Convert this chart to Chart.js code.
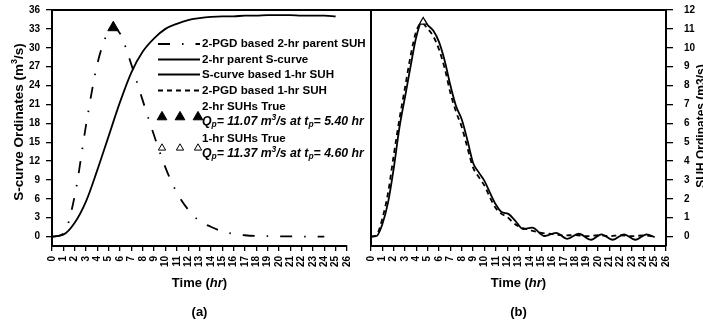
<!DOCTYPE html>
<html>
<head>
<meta charset="utf-8">
<script src="https://cdn.jsdelivr.net/npm/chart.js@4.4.1/dist/chart.umd.min.js"></script>
<style>
html, body { margin:0; padding:0; background:#fff; }
#quadro { position:relative; width:703px; height:322px; overflow:hidden; }
canvas { position:absolute; left:0; top:0; }
</style>
</head>
<body>
<div id="quadro">
  <canvas id="graficoA" width="703" height="322"></canvas>
  <canvas id="graficoB" width="703" height="322"></canvas>
</div>
<script>
// (a) 2-hr parent S-curve (left axis, m3/s)
var horasS = [0,1,2,3,4,5,6,7,8,9,10,11,12,13,14,15,16,17,18,19,20,21,22,23,24,25];
var sCurve2h = [0,0.3,2.2,5.6,10.6,16.0,21.4,26.1,29.4,31.5,33.0,33.8,34.4,34.7,34.9,35.0,35.0,35.1,35.1,35.2,35.2,35.2,35.1,35.1,35.1,35.0];

// (a) 2-PGD based 2-hr parent SUH (SUH axis)
var horasSuh2h = [0,1,2,3,4,5,5.4,6,7,8,9,10,11,12,13,14,15,16,17,18,19,20,21,22,23,24];
var suh2h = [0,0.15,2.15,5.9,9.15,10.9,11.07,10.75,9.1,7.2,5.35,3.65,2.33,1.43,0.82,0.52,0.27,0.14,0.07,0.03,0.02,0.01,0.01,0,0,0];

// true peaks
var pico2hT = [5.4], pico2hQ = [11.07];
var pico1hT = [4.6], pico1hQ = [11.37];

// (b) S-curve based 1-hr SUH
var horasScurve1h = [0,0.5,1,1.5,2,2.5,3,3.5,4,4.6,5,5.5,6,6.5,7,7.5,8,8.5,9,9.5,10,10.5,11,11.5,12.1,12.7,13.4,14.2,15.3,16.3,17.3,18.3,19.4,20.3,21.3,22.3,23.3,24.3,25];
var suh1hScurve = [0,0.03,0.65,1.8,3.6,5.75,7.4,9.05,10.6,11.5,11.2,10.9,10.3,9.3,8.0,6.9,6.2,5.1,3.9,3.4,2.95,2.3,1.7,1.3,1.2,0.85,0.4,0.47,0.03,0.2,-0.12,0.15,-0.17,0.12,-0.17,0.12,-0.17,0.12,-0.03];

// (b) 2-PGD based 1-hr SUH
var horasPgd1h = [0,0.5,1,1.5,2,2.5,3,3.5,4,4.5,5,5.5,6,6.5,7,7.5,8,8.5,9,9.5,10,10.5,11,11.5,12,12.5,13,14,15,16,17,18,19,20,21,22,23,24,25];
var suh1hPgd = [0,0.1,0.95,2.3,4.3,6.2,7.9,9.6,10.9,11.3,11.0,10.6,9.9,8.9,7.6,6.6,5.8,4.7,3.65,3.15,2.7,2.05,1.5,1.2,1.05,0.75,0.55,0.35,0.2,0.13,0.06,0.08,0.02,0.07,0.02,0.07,0.02,0.06,0];

var ticksTempo = 26;      // 0..26 hr
var sMax = 36, sPasso = 3;
var suhMax = 12, suhPasso = 1;

var FONTE = "'Liberation Sans', Arial, sans-serif";

function pontos(xs, ys) {
    return xs.map(function(x, i){ return {x: x, y: ys[i]}; });
}

function textoRico(ctx, partes, x, y, centro) {
    var w = 0;
    partes.forEach(function(p){ ctx.font = p[1]; w += ctx.measureText(p[0]).width; });
    var px = centro ? x - w / 2 : x;
    ctx.textAlign = 'left';
    ctx.textBaseline = 'middle';
    ctx.fillStyle = '#000';
    partes.forEach(function(p){
        ctx.font = p[1];
        ctx.fillText(p[0], px, y + (p[2] || 0));
        px += ctx.measureText(p[0]).width;
    });
}

function triangulo(ctx, x, y, r, cheio) {
    ctx.beginPath();
    for (var k = 0; k < 3; k++) {
        var a = k * 2 * Math.PI / 3;
        var tx = x + Math.sin(a) * r, ty = y - Math.cos(a) * r;
        if (k == 0) ctx.moveTo(tx, ty); else ctx.lineTo(tx, ty);
    }
    ctx.closePath();
    ctx.lineWidth = 1;
    ctx.strokeStyle = '#000';
    if (cheio) { ctx.fillStyle = '#000'; ctx.fill(); }
    else { ctx.fillStyle = '#fff'; ctx.fill(); }
    ctx.stroke();
}

function eixoTempo() {
    return {
        type: 'linear', min: 0, max: ticksTempo,
        ticks: { stepSize: 1, autoSkip: false, minRotation: 90, maxRotation: 90, padding: 5,
                 color: '#000', font: { family: FONTE, size: 10, weight: 'bold' } },
        grid: { drawOnChartArea: false, drawTicks: true, tickLength: 5, color: '#000', lineWidth: 1.3 },
        border: { display: true, color: '#000', width: 2 },
        afterFit: function(s){ s.height = 76; s.paddingLeft = 0; s.paddingRight = 0; }
    };
}

var linhaBase = { borderColor: '#000', borderWidth: 1.8, pointRadius: 0, fill: false, cubicInterpolationMode: 'monotone' };

var textosA = {
    id: 'textosA',
    afterDraw: function(chart) {
        var ctx = chart.ctx, a = chart.chartArea;
        var cx = (a.left + a.right) / 2;
        ctx.save();
        textoRico(ctx, [['Time (', 'bold 13px ' + FONTE], ['hr', 'italic bold 13px ' + FONTE], [')', 'bold 13px ' + FONTE]], cx, 283, true);
        textoRico(ctx, [['(a)', 'bold 13px ' + FONTE]], cx, 312, true);
        ctx.translate(19, 122);
        ctx.rotate(-Math.PI / 2);
        textoRico(ctx, [['S-curve Ordinates (m', 'bold 13.5px ' + FONTE], ['3', 'bold 9px ' + FONTE, -4], ['/s)', 'bold 13.5px ' + FONTE]], 0, 0, true);
        ctx.restore();

        // legend
        ctx.save();
        var x0 = 158, x1 = 200, xt = 202;
        var fN = 'bold 11.6px ' + FONTE, fI = 'italic bold 12.3px ' + FONTE, fS = 'italic bold 8.5px ' + FONTE;
        var linhas = [[44, [12, 12, 1.5, 12]], [59.5, []], [74.5, []], [90.5, [5, 4]]];
        var nomes = ['2-PGD based 2-hr parent SUH', '2-hr parent S-curve', 'S-curve based 1-hr SUH', '2-PGD based 1-hr SUH'];
        linhas.forEach(function(l, i){
            ctx.beginPath();
            ctx.setLineDash(l[1]);
            ctx.lineWidth = 1.8;
            ctx.strokeStyle = '#000';
            ctx.moveTo(x0, l[0]); ctx.lineTo(x1, l[0]);
            ctx.stroke();
            ctx.setLineDash([]);
            textoRico(ctx, [[nomes[i], fN]], xt, l[0], false);
        });
        textoRico(ctx, [['2-hr SUHs True', fN]], xt, 107, false);
        [162, 180, 198].forEach(function(x){ triangulo(ctx, x, 117, 5.6, true); });
        textoRico(ctx, [['Q', fI], ['p', fS, 3], ['= 11.07 m', fI], ['3', fS, -4], ['/s at t', fI], ['p', fS, 3], ['= 5.40 hr', fI]], xt, 122, false);
        textoRico(ctx, [['1-hr SUHs True', fN]], xt, 138.5, false);
        [162, 180, 198].forEach(function(x){ triangulo(ctx, x, 148, 4.2, false); });
        textoRico(ctx, [['Q', fI], ['p', fS, 3], ['= 11.37 m', fI], ['3', fS, -4], ['/s at t', fI], ['p', fS, 3], ['= 4.60 hr', fI]], xt, 153.5, false);
        ctx.restore();
    }
};

var graficoA = new Chart(document.getElementById('graficoA').getContext('2d'), {
    type: 'line',
    data: {
        datasets: [{
            data: pontos(pico2hT, pico2hQ), yAxisID: 'y2', showLine: false,
            pointStyle: 'triangle', pointRadius: 6.3, backgroundColor: '#000', borderColor: '#000', borderWidth: 1
        }, Object.assign({
            data: pontos(horasS, sCurve2h), yAxisID: 'y'
        }, linhaBase), Object.assign({
            data: pontos(horasSuh2h, suh2h), yAxisID: 'y2', borderDash: [12, 12, 1.5, 12]
        }, linhaBase)]
    },
    options: {
        responsive: false, animation: false, events: [],
        layout: { padding: { top: 10, right: 356, left: 0, bottom: 0 } },
        plugins: { legend: { display: false }, tooltip: { enabled: false } },
        scales: {
            x: eixoTempo(),
            y: {
                type: 'linear', position: 'left', min: -1.5, max: sMax,
                ticks: { stepSize: sPasso, includeBounds: false, padding: 6, color: '#000',
                         font: { family: FONTE, size: 10, weight: 'bold' } },
                grid: { drawOnChartArea: false, tickLength: 6, color: '#000', lineWidth: 1.3 },
                border: { display: true, color: '#000', width: 2 },
                afterFit: function(s){ s.width = 52; s.paddingTop = 0; s.paddingBottom = 0; }
            },
            y2: { type: 'linear', display: false, min: -0.5, max: suhMax }
        }
    },
    plugins: [textosA]
});

var textosB = {
    id: 'textosB',
    afterDraw: function(chart) {
        var ctx = chart.ctx, a = chart.chartArea, aa = graficoA.chartArea;
        var cx = (a.left + a.right) / 2;
        ctx.save();
        ctx.strokeStyle = '#000';
        ctx.lineWidth = 2;
        ctx.beginPath();
        ctx.moveTo(aa.left - 1, a.top); ctx.lineTo(a.right + 1, a.top);
        ctx.moveTo(a.left, a.top); ctx.lineTo(a.left, a.bottom);
        ctx.stroke();
        textoRico(ctx, [['Time (', 'bold 13px ' + FONTE], ['hr', 'italic bold 13px ' + FONTE], [')', 'bold 13px ' + FONTE]], cx, 283, true);
        textoRico(ctx, [['(b)', 'bold 13px ' + FONTE]], cx, 312, true);
        ctx.translate(702, 126);
        ctx.rotate(-Math.PI / 2);
        textoRico(ctx, [['SUH Ordinates (m3/s)', 'bold 12px ' + FONTE]], 0, 0, true);
        ctx.restore();
    }
};

var graficoB = new Chart(document.getElementById('graficoB').getContext('2d'), {
    type: 'line',
    data: {
        datasets: [{
            data: pontos(pico1hT, pico1hQ), showLine: false,
            pointStyle: 'triangle', pointRadius: 4.5, backgroundColor: '#fff', borderColor: '#000', borderWidth: 1.1
        }, Object.assign({
            data: pontos(horasScurve1h, suh1hScurve)
        }, linhaBase), Object.assign({
            data: pontos(horasPgd1h, suh1hPgd), borderDash: [5, 4]
        }, linhaBase)]
    },
    options: {
        responsive: false, animation: false, events: [],
        layout: { padding: { top: 10, right: 0, left: 371, bottom: 0 } },
        plugins: { legend: { display: false }, tooltip: { enabled: false } },
        scales: {
            x: eixoTempo(),
            y: {
                type: 'linear', position: 'right', min: -0.5, max: suhMax,
                ticks: { stepSize: suhPasso, includeBounds: false, padding: 11, color: '#000',
                         font: { family: FONTE, size: 10, weight: 'bold' } },
                grid: { drawOnChartArea: false, tickLength: 7, color: '#000', lineWidth: 1.3 },
                border: { display: true, color: '#000', width: 2 },
                afterFit: function(s){ s.width = 37; s.paddingTop = 0; s.paddingBottom = 0; }
            }
        }
    },
    plugins: [textosB]
});
</script>
</body>
</html>
